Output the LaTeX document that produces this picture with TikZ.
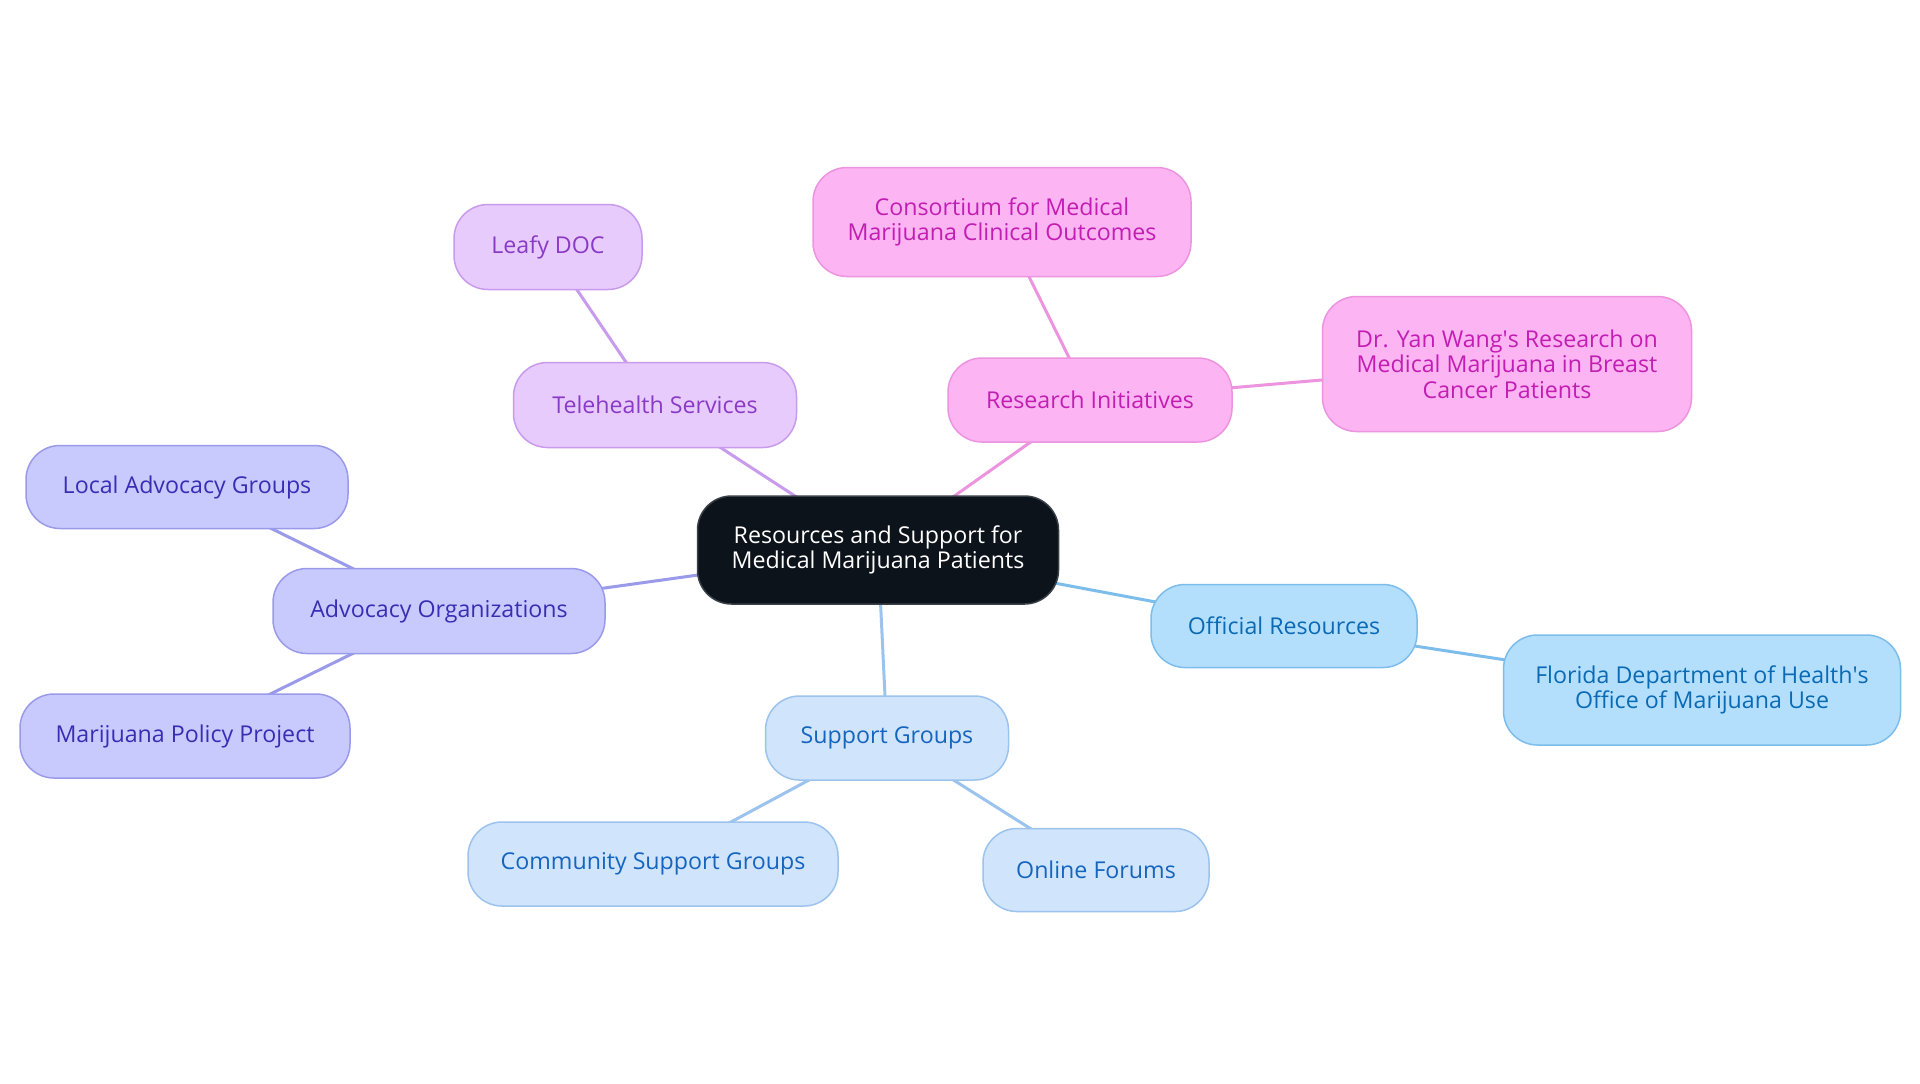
\documentclass[tikz,border=0pt]{standalone}
\usepackage{fontspec}
\setmainfont{Open Sans}
\usetikzlibrary{backgrounds}
\begin{document}
\begin{tikzpicture}[x=0.5pt,y=-0.5pt,
  box/.style={draw, rounded corners=17pt, align=center, inner sep=0pt,
    font=\fontsize{11.6}{12.8}\selectfont, line width=0.75pt},
  rootbox/.style={box, fill=root, draw=rootline, text=white},
  purp/.style={box, fill=purpfill, draw=purpline, text=purptext},
  pink/.style={box, fill=pinkfill, draw=pinkline, text=pinktext},
  indi/.style={box, fill=indifill, draw=indiline, text=inditext},
  sky/.style={box, fill=skyfill, draw=skyline, text=skytext},
  pale/.style={box, fill=palefill, draw=paleline, text=paletext},
  link/.style={line width=1.5pt}]
\definecolor{root}{HTML}{0D131A}
\definecolor{rootline}{HTML}{3A4048}
\definecolor{purpfill}{HTML}{E8CBFD}
\definecolor{purpline}{HTML}{C89BEC}
\definecolor{purptext}{HTML}{8A3BC6}
\definecolor{pinkfill}{HTML}{FDB4F2}
\definecolor{pinkline}{HTML}{EC94DF}
\definecolor{pinktext}{HTML}{C21EB3}
\definecolor{indifill}{HTML}{C8CAFE}
\definecolor{indiline}{HTML}{9A9AEA}
\definecolor{inditext}{HTML}{3A2DB3}
\definecolor{skyfill}{HTML}{B3DFFD}
\definecolor{skyline}{HTML}{7DBDEB}
\definecolor{skytext}{HTML}{0B6AB3}
\definecolor{palefill}{HTML}{D0E4FC}
\definecolor{paleline}{HTML}{9CC3EE}
\definecolor{paletext}{HTML}{1565BF}
\useasboundingbox (0,0) rectangle (1920,1083);
% nodes
\node[rootbox, minimum width=180.5pt, minimum height=54pt] (root) at (878,550) {Resources and Support for\\Medical Marijuana Patients};
\node[purp, minimum width=141.5pt, minimum height=42.5pt] (tele) at (655,405) {Telehealth Services};
\node[purp, minimum width=94pt, minimum height=42.5pt] (leafy) at (548,247) {Leafy DOC};
\node[pink, minimum width=142pt, minimum height=42pt] (res) at (1090,400) {Research Initiatives};
\node[pink, minimum width=189pt, minimum height=54.5pt] (cons) at (1002,222) {Consortium for Medical\\Marijuana Clinical Outcomes};
\node[pink, minimum width=184.5pt, minimum height=67.5pt] (wang) at (1507,364) {Dr. Yan Wang\textquotesingle s Research on\\Medical Marijuana in Breast\\Cancer Patients};
\node[indi, minimum width=166pt, minimum height=42.5pt] (adv) at (439,611) {Advocacy Organizations};
\node[indi, minimum width=161pt, minimum height=41.5pt] (local) at (187,487) {Local Advocacy Groups};
\node[indi, minimum width=165pt, minimum height=42pt] (mpp) at (185,736) {Marijuana Policy Project};
\node[sky, minimum width=133pt, minimum height=41.5pt] (off) at (1284,626) {Official Resources};
\node[sky, minimum width=198.5pt, minimum height=55pt] (fl) at (1702,690) {Florida Department of Health\textquotesingle s\\Office of Marijuana Use};
\node[pale, minimum width=121.5pt, minimum height=42pt] (sup) at (887,738) {Support Groups};
\node[pale, minimum width=185pt, minimum height=42pt] (comm) at (653,864) {Community Support Groups};
\node[pale, minimum width=113pt, minimum height=41.5pt] (forum) at (1096,870) {Online Forums};
% links behind nodes
\begin{scope}[on background layer]
\fill[white] (0,0) rectangle (1920,1083);
\draw[link, draw=purpline] (root.center) -- (tele.center);
\draw[link, draw=purpline] (tele.center) -- (leafy.center);
\draw[link, draw=pinkline] (root.center) -- (res.center);
\draw[link, draw=pinkline] (res.center) -- (cons.center);
\draw[link, draw=pinkline] (res.center) -- (wang.center);
\draw[link, draw=indiline] (root.center) -- (adv.center);
\draw[link, draw=indiline] (adv.center) -- (local.center);
\draw[link, draw=indiline] (adv.center) -- (mpp.center);
\draw[link, draw=skyline] (root.center) -- (off.center);
\draw[link, draw=skyline] (off.center) -- (fl.center);
\draw[link, draw=paleline] (root.center) -- (sup.center);
\draw[link, draw=paleline] (sup.center) -- (comm.center);
\draw[link, draw=paleline] (sup.center) -- (forum.center);
\end{scope}
\end{tikzpicture}
\end{document}
